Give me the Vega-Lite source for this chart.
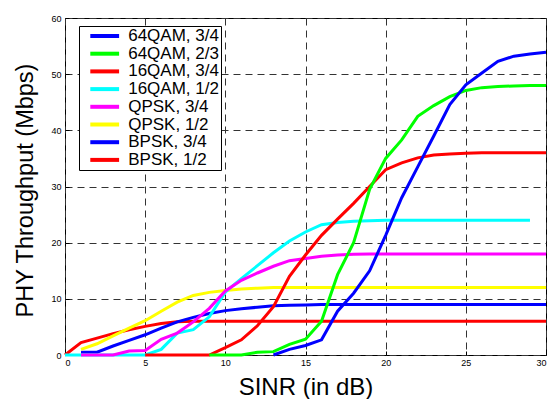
{
  "$schema": "https://vega.github.io/schema/vega-lite/v6.json",
  "width": 481,
  "height": 337,
  "autosize": "none",
  "padding": {"left": 65, "top": 18, "right": 5, "bottom": 44},
  "background": "white",
  "config": {"view": {"stroke": "black", "strokeWidth": 1}, "font": "Liberation Sans"},
  "data": {"values": [
    {"scheme": "BPSK, 1/2", "snr": 0, "tput": 0},
    {"scheme": "BPSK, 1/2", "snr": 1, "tput": 2.2},
    {"scheme": "BPSK, 1/2", "snr": 2, "tput": 3.0},
    {"scheme": "BPSK, 1/2", "snr": 3, "tput": 3.8},
    {"scheme": "BPSK, 1/2", "snr": 4, "tput": 4.5},
    {"scheme": "BPSK, 1/2", "snr": 5, "tput": 5.1},
    {"scheme": "BPSK, 1/2", "snr": 6, "tput": 5.6},
    {"scheme": "BPSK, 1/2", "snr": 7, "tput": 5.9},
    {"scheme": "BPSK, 1/2", "snr": 8, "tput": 6},
    {"scheme": "BPSK, 1/2", "snr": 9, "tput": 6},
    {"scheme": "BPSK, 1/2", "snr": 10, "tput": 6},
    {"scheme": "BPSK, 1/2", "snr": 11, "tput": 6},
    {"scheme": "BPSK, 1/2", "snr": 12, "tput": 6},
    {"scheme": "BPSK, 1/2", "snr": 13, "tput": 6},
    {"scheme": "BPSK, 1/2", "snr": 14, "tput": 6},
    {"scheme": "BPSK, 1/2", "snr": 15, "tput": 6},
    {"scheme": "BPSK, 1/2", "snr": 16, "tput": 6},
    {"scheme": "BPSK, 1/2", "snr": 17, "tput": 6},
    {"scheme": "BPSK, 1/2", "snr": 18, "tput": 6},
    {"scheme": "BPSK, 1/2", "snr": 19, "tput": 6},
    {"scheme": "BPSK, 1/2", "snr": 20, "tput": 6},
    {"scheme": "BPSK, 1/2", "snr": 21, "tput": 6},
    {"scheme": "BPSK, 1/2", "snr": 22, "tput": 6},
    {"scheme": "BPSK, 1/2", "snr": 23, "tput": 6},
    {"scheme": "BPSK, 1/2", "snr": 24, "tput": 6},
    {"scheme": "BPSK, 1/2", "snr": 25, "tput": 6},
    {"scheme": "BPSK, 1/2", "snr": 26, "tput": 6},
    {"scheme": "BPSK, 1/2", "snr": 27, "tput": 6},
    {"scheme": "BPSK, 1/2", "snr": 28, "tput": 6},
    {"scheme": "BPSK, 1/2", "snr": 29, "tput": 6},
    {"scheme": "BPSK, 1/2", "snr": 30, "tput": 6},

    {"scheme": "BPSK, 3/4", "snr": 1, "tput": 0.5},
    {"scheme": "BPSK, 3/4", "snr": 2, "tput": 0.5},
    {"scheme": "BPSK, 3/4", "snr": 3, "tput": 1.6},
    {"scheme": "BPSK, 3/4", "snr": 4, "tput": 2.6},
    {"scheme": "BPSK, 3/4", "snr": 5, "tput": 3.6},
    {"scheme": "BPSK, 3/4", "snr": 6, "tput": 4.8},
    {"scheme": "BPSK, 3/4", "snr": 7, "tput": 5.9},
    {"scheme": "BPSK, 3/4", "snr": 8, "tput": 6.7},
    {"scheme": "BPSK, 3/4", "snr": 9, "tput": 7.4},
    {"scheme": "BPSK, 3/4", "snr": 10, "tput": 7.9},
    {"scheme": "BPSK, 3/4", "snr": 11, "tput": 8.25},
    {"scheme": "BPSK, 3/4", "snr": 12, "tput": 8.5},
    {"scheme": "BPSK, 3/4", "snr": 13, "tput": 8.75},
    {"scheme": "BPSK, 3/4", "snr": 14, "tput": 8.85},
    {"scheme": "BPSK, 3/4", "snr": 15, "tput": 8.9},
    {"scheme": "BPSK, 3/4", "snr": 16, "tput": 9},
    {"scheme": "BPSK, 3/4", "snr": 17, "tput": 9},
    {"scheme": "BPSK, 3/4", "snr": 18, "tput": 9},
    {"scheme": "BPSK, 3/4", "snr": 19, "tput": 9},
    {"scheme": "BPSK, 3/4", "snr": 20, "tput": 9},
    {"scheme": "BPSK, 3/4", "snr": 21, "tput": 9},
    {"scheme": "BPSK, 3/4", "snr": 22, "tput": 9},
    {"scheme": "BPSK, 3/4", "snr": 23, "tput": 9},
    {"scheme": "BPSK, 3/4", "snr": 24, "tput": 9},
    {"scheme": "BPSK, 3/4", "snr": 25, "tput": 9},
    {"scheme": "BPSK, 3/4", "snr": 26, "tput": 9},
    {"scheme": "BPSK, 3/4", "snr": 27, "tput": 9},
    {"scheme": "BPSK, 3/4", "snr": 28, "tput": 9},
    {"scheme": "BPSK, 3/4", "snr": 29, "tput": 9},
    {"scheme": "BPSK, 3/4", "snr": 30, "tput": 9},

    {"scheme": "QPSK, 1/2", "snr": 1, "tput": 1.0},
    {"scheme": "QPSK, 1/2", "snr": 2, "tput": 2.0},
    {"scheme": "QPSK, 1/2", "snr": 3, "tput": 3.4},
    {"scheme": "QPSK, 1/2", "snr": 4, "tput": 4.8},
    {"scheme": "QPSK, 1/2", "snr": 5, "tput": 6.1},
    {"scheme": "QPSK, 1/2", "snr": 6, "tput": 7.8},
    {"scheme": "QPSK, 1/2", "snr": 7, "tput": 9.4},
    {"scheme": "QPSK, 1/2", "snr": 8, "tput": 10.6},
    {"scheme": "QPSK, 1/2", "snr": 9, "tput": 11.15},
    {"scheme": "QPSK, 1/2", "snr": 10, "tput": 11.5},
    {"scheme": "QPSK, 1/2", "snr": 11, "tput": 11.75},
    {"scheme": "QPSK, 1/2", "snr": 12, "tput": 11.9},
    {"scheme": "QPSK, 1/2", "snr": 13, "tput": 12},
    {"scheme": "QPSK, 1/2", "snr": 14, "tput": 12},
    {"scheme": "QPSK, 1/2", "snr": 15, "tput": 12},
    {"scheme": "QPSK, 1/2", "snr": 16, "tput": 12},
    {"scheme": "QPSK, 1/2", "snr": 17, "tput": 12},
    {"scheme": "QPSK, 1/2", "snr": 18, "tput": 12},
    {"scheme": "QPSK, 1/2", "snr": 19, "tput": 12},
    {"scheme": "QPSK, 1/2", "snr": 20, "tput": 12},
    {"scheme": "QPSK, 1/2", "snr": 21, "tput": 12},
    {"scheme": "QPSK, 1/2", "snr": 22, "tput": 12},
    {"scheme": "QPSK, 1/2", "snr": 23, "tput": 12},
    {"scheme": "QPSK, 1/2", "snr": 24, "tput": 12},
    {"scheme": "QPSK, 1/2", "snr": 25, "tput": 12},
    {"scheme": "QPSK, 1/2", "snr": 26, "tput": 12},
    {"scheme": "QPSK, 1/2", "snr": 27, "tput": 12},
    {"scheme": "QPSK, 1/2", "snr": 28, "tput": 12},
    {"scheme": "QPSK, 1/2", "snr": 29, "tput": 12},
    {"scheme": "QPSK, 1/2", "snr": 30, "tput": 12},

    {"scheme": "16QAM, 1/2", "snr": 0, "tput": 0},
    {"scheme": "16QAM, 1/2", "snr": 1, "tput": 0},
    {"scheme": "16QAM, 1/2", "snr": 2, "tput": 0},
    {"scheme": "16QAM, 1/2", "snr": 3, "tput": 0},
    {"scheme": "16QAM, 1/2", "snr": 4, "tput": 0},
    {"scheme": "16QAM, 1/2", "snr": 5, "tput": 0},
    {"scheme": "16QAM, 1/2", "snr": 6, "tput": 1.0},
    {"scheme": "16QAM, 1/2", "snr": 7, "tput": 3.9},
    {"scheme": "16QAM, 1/2", "snr": 8, "tput": 4.5},
    {"scheme": "16QAM, 1/2", "snr": 9, "tput": 6.8},
    {"scheme": "16QAM, 1/2", "snr": 10, "tput": 11.2},
    {"scheme": "16QAM, 1/2", "snr": 11, "tput": 13.6},
    {"scheme": "16QAM, 1/2", "snr": 12, "tput": 15.9},
    {"scheme": "16QAM, 1/2", "snr": 13, "tput": 18.2},
    {"scheme": "16QAM, 1/2", "snr": 14, "tput": 20.3},
    {"scheme": "16QAM, 1/2", "snr": 15, "tput": 21.9},
    {"scheme": "16QAM, 1/2", "snr": 16, "tput": 23.2},
    {"scheme": "16QAM, 1/2", "snr": 17, "tput": 23.6},
    {"scheme": "16QAM, 1/2", "snr": 18, "tput": 23.8},
    {"scheme": "16QAM, 1/2", "snr": 19, "tput": 23.9},
    {"scheme": "16QAM, 1/2", "snr": 20, "tput": 24},
    {"scheme": "16QAM, 1/2", "snr": 21, "tput": 24},
    {"scheme": "16QAM, 1/2", "snr": 22, "tput": 24},
    {"scheme": "16QAM, 1/2", "snr": 23, "tput": 24},
    {"scheme": "16QAM, 1/2", "snr": 24, "tput": 24},
    {"scheme": "16QAM, 1/2", "snr": 25, "tput": 24},
    {"scheme": "16QAM, 1/2", "snr": 26, "tput": 24},
    {"scheme": "16QAM, 1/2", "snr": 27, "tput": 24},
    {"scheme": "16QAM, 1/2", "snr": 28, "tput": 24},
    {"scheme": "16QAM, 1/2", "snr": 29, "tput": 24},

    {"scheme": "QPSK, 3/4", "snr": 1, "tput": 0},
    {"scheme": "QPSK, 3/4", "snr": 2, "tput": 0},
    {"scheme": "QPSK, 3/4", "snr": 3, "tput": 0},
    {"scheme": "QPSK, 3/4", "snr": 4, "tput": 0.7},
    {"scheme": "QPSK, 3/4", "snr": 5, "tput": 0.8},
    {"scheme": "QPSK, 3/4", "snr": 6, "tput": 2.8},
    {"scheme": "QPSK, 3/4", "snr": 7, "tput": 3.9},
    {"scheme": "QPSK, 3/4", "snr": 8, "tput": 5.9},
    {"scheme": "QPSK, 3/4", "snr": 9, "tput": 8.3},
    {"scheme": "QPSK, 3/4", "snr": 10, "tput": 11.4},
    {"scheme": "QPSK, 3/4", "snr": 11, "tput": 13.3},
    {"scheme": "QPSK, 3/4", "snr": 12, "tput": 14.6},
    {"scheme": "QPSK, 3/4", "snr": 13, "tput": 15.8},
    {"scheme": "QPSK, 3/4", "snr": 14, "tput": 16.8},
    {"scheme": "QPSK, 3/4", "snr": 15, "tput": 17.2},
    {"scheme": "QPSK, 3/4", "snr": 16, "tput": 17.6},
    {"scheme": "QPSK, 3/4", "snr": 17, "tput": 17.8},
    {"scheme": "QPSK, 3/4", "snr": 18, "tput": 17.95},
    {"scheme": "QPSK, 3/4", "snr": 19, "tput": 18},
    {"scheme": "QPSK, 3/4", "snr": 20, "tput": 18},
    {"scheme": "QPSK, 3/4", "snr": 21, "tput": 18},
    {"scheme": "QPSK, 3/4", "snr": 22, "tput": 18},
    {"scheme": "QPSK, 3/4", "snr": 23, "tput": 18},
    {"scheme": "QPSK, 3/4", "snr": 24, "tput": 18},
    {"scheme": "QPSK, 3/4", "snr": 25, "tput": 18},
    {"scheme": "QPSK, 3/4", "snr": 26, "tput": 18},
    {"scheme": "QPSK, 3/4", "snr": 27, "tput": 18},
    {"scheme": "QPSK, 3/4", "snr": 28, "tput": 18},
    {"scheme": "QPSK, 3/4", "snr": 29, "tput": 18},
    {"scheme": "QPSK, 3/4", "snr": 30, "tput": 18},

    {"scheme": "16QAM, 3/4", "snr": 5, "tput": 0},
    {"scheme": "16QAM, 3/4", "snr": 6, "tput": 0},
    {"scheme": "16QAM, 3/4", "snr": 7, "tput": 0},
    {"scheme": "16QAM, 3/4", "snr": 8, "tput": 0},
    {"scheme": "16QAM, 3/4", "snr": 9, "tput": 0},
    {"scheme": "16QAM, 3/4", "snr": 10, "tput": 1.3},
    {"scheme": "16QAM, 3/4", "snr": 11, "tput": 2.7},
    {"scheme": "16QAM, 3/4", "snr": 12, "tput": 5.2},
    {"scheme": "16QAM, 3/4", "snr": 13, "tput": 8.6},
    {"scheme": "16QAM, 3/4", "snr": 14, "tput": 14},
    {"scheme": "16QAM, 3/4", "snr": 15, "tput": 17.8},
    {"scheme": "16QAM, 3/4", "snr": 16, "tput": 21.3},
    {"scheme": "16QAM, 3/4", "snr": 17, "tput": 24.2},
    {"scheme": "16QAM, 3/4", "snr": 18, "tput": 27},
    {"scheme": "16QAM, 3/4", "snr": 19, "tput": 30},
    {"scheme": "16QAM, 3/4", "snr": 20, "tput": 33},
    {"scheme": "16QAM, 3/4", "snr": 21, "tput": 34.2},
    {"scheme": "16QAM, 3/4", "snr": 22, "tput": 35.1},
    {"scheme": "16QAM, 3/4", "snr": 23, "tput": 35.6},
    {"scheme": "16QAM, 3/4", "snr": 24, "tput": 35.8},
    {"scheme": "16QAM, 3/4", "snr": 25, "tput": 35.9},
    {"scheme": "16QAM, 3/4", "snr": 26, "tput": 36},
    {"scheme": "16QAM, 3/4", "snr": 27, "tput": 36},
    {"scheme": "16QAM, 3/4", "snr": 28, "tput": 36},
    {"scheme": "16QAM, 3/4", "snr": 29, "tput": 36},
    {"scheme": "16QAM, 3/4", "snr": 30, "tput": 36},

    {"scheme": "64QAM, 2/3", "snr": 9, "tput": 0},
    {"scheme": "64QAM, 2/3", "snr": 10, "tput": 0},
    {"scheme": "64QAM, 2/3", "snr": 11, "tput": 0},
    {"scheme": "64QAM, 2/3", "snr": 12, "tput": 0.5},
    {"scheme": "64QAM, 2/3", "snr": 13, "tput": 0.6},
    {"scheme": "64QAM, 2/3", "snr": 14, "tput": 1.9},
    {"scheme": "64QAM, 2/3", "snr": 15, "tput": 2.8},
    {"scheme": "64QAM, 2/3", "snr": 16, "tput": 6},
    {"scheme": "64QAM, 2/3", "snr": 17, "tput": 14.3},
    {"scheme": "64QAM, 2/3", "snr": 18, "tput": 20},
    {"scheme": "64QAM, 2/3", "snr": 19, "tput": 29.5},
    {"scheme": "64QAM, 2/3", "snr": 20, "tput": 35},
    {"scheme": "64QAM, 2/3", "snr": 21, "tput": 38.3},
    {"scheme": "64QAM, 2/3", "snr": 22, "tput": 42.5},
    {"scheme": "64QAM, 2/3", "snr": 23, "tput": 44.4},
    {"scheme": "64QAM, 2/3", "snr": 24, "tput": 46},
    {"scheme": "64QAM, 2/3", "snr": 25, "tput": 47.1},
    {"scheme": "64QAM, 2/3", "snr": 26, "tput": 47.6},
    {"scheme": "64QAM, 2/3", "snr": 27, "tput": 47.8},
    {"scheme": "64QAM, 2/3", "snr": 28, "tput": 47.9},
    {"scheme": "64QAM, 2/3", "snr": 29, "tput": 48},
    {"scheme": "64QAM, 2/3", "snr": 30, "tput": 48},

    {"scheme": "64QAM, 3/4", "snr": 13, "tput": 0},
    {"scheme": "64QAM, 3/4", "snr": 14, "tput": 1.0},
    {"scheme": "64QAM, 3/4", "snr": 15, "tput": 1.7},
    {"scheme": "64QAM, 3/4", "snr": 16, "tput": 2.7},
    {"scheme": "64QAM, 3/4", "snr": 17, "tput": 7.8},
    {"scheme": "64QAM, 3/4", "snr": 18, "tput": 11},
    {"scheme": "64QAM, 3/4", "snr": 19, "tput": 15},
    {"scheme": "64QAM, 3/4", "snr": 20, "tput": 21.3},
    {"scheme": "64QAM, 3/4", "snr": 21, "tput": 28},
    {"scheme": "64QAM, 3/4", "snr": 22, "tput": 33.5},
    {"scheme": "64QAM, 3/4", "snr": 23, "tput": 39},
    {"scheme": "64QAM, 3/4", "snr": 24, "tput": 44.6},
    {"scheme": "64QAM, 3/4", "snr": 25, "tput": 48.1},
    {"scheme": "64QAM, 3/4", "snr": 26, "tput": 50.2},
    {"scheme": "64QAM, 3/4", "snr": 27, "tput": 52.3},
    {"scheme": "64QAM, 3/4", "snr": 28, "tput": 53.2},
    {"scheme": "64QAM, 3/4", "snr": 29, "tput": 53.6},
    {"scheme": "64QAM, 3/4", "snr": 30, "tput": 53.9}
  ]},
  "mark": {"type": "line", "strokeWidth": 3, "clip": false},
  "encoding": {
    "x": {
      "field": "snr", "type": "quantitative",
      "scale": {"domain": [0, 30], "nice": false},
      "axis": {
        "title": "SINR (in dB)", "values": [0, 5, 10, 15, 20, 25, 30],
        "grid": true, "gridDash": [7, 5], "gridColor": "#333333", "gridOpacity": 1, "gridWidth": 1,
        "domain": false, "ticks": true, "tickSize": -4, "tickColor": "black", "tickWidth": 1,
        "labelFontSize": 9, "labelPadding": 7, "labelColor": "black",
        "titleFontSize": 24, "titleFontWeight": "normal", "titleColor": "black",
        "titleY": 39, "titleBaseline": "alphabetic"
      }
    },
    "y": {
      "field": "tput", "type": "quantitative",
      "scale": {"domain": [0, 60], "nice": false},
      "axis": {
        "title": "PHY Throughput (Mbps)", "values": [0, 10, 20, 30, 40, 50, 60],
        "grid": true, "gridDash": [7, 5], "gridColor": "#333333", "gridOpacity": 1, "gridWidth": 1,
        "domain": false, "ticks": true, "tickSize": -4, "tickColor": "black", "tickWidth": 1,
        "labelFontSize": 9, "labelPadding": 8, "labelColor": "black",
        "titleFontSize": 23.5, "titleFontWeight": "normal", "titleColor": "black",
        "titleX": -33, "titleY": 172, "titleBaseline": "alphabetic", "titleAngle": -90, "titleAlign": "center"
      }
    },
    "color": {
      "field": "scheme", "type": "nominal",
      "scale": {
        "domain": ["64QAM, 3/4", "64QAM, 2/3", "16QAM, 3/4", "16QAM, 1/2", "QPSK, 3/4", "QPSK, 1/2", "BPSK, 3/4", "BPSK, 1/2"],
        "range": ["#0000ff", "#00ff00", "#ff0000", "#00ffff", "#ff00ff", "#ffff00", "#0000ff", "#ff0000"]
      },
      "legend": {
        "title": null, "orient": "none", "legendX": 14, "legendY": 8,
        "symbolType": "M-4.8,0H4.8", "symbolStrokeWidth": 4, "symbolSize": 36,
        "labelFontSize": 17, "labelOffset": 15, "labelColor": "black", "labelLimit": 300,
        "labelExpr": "datum.label + '   '",
        "padding": 1.5, "rowPadding": -0.3, "symbolOffset": 15.7,
        "strokeColor": "black", "fillColor": "white"
      }
    }
  }
}
